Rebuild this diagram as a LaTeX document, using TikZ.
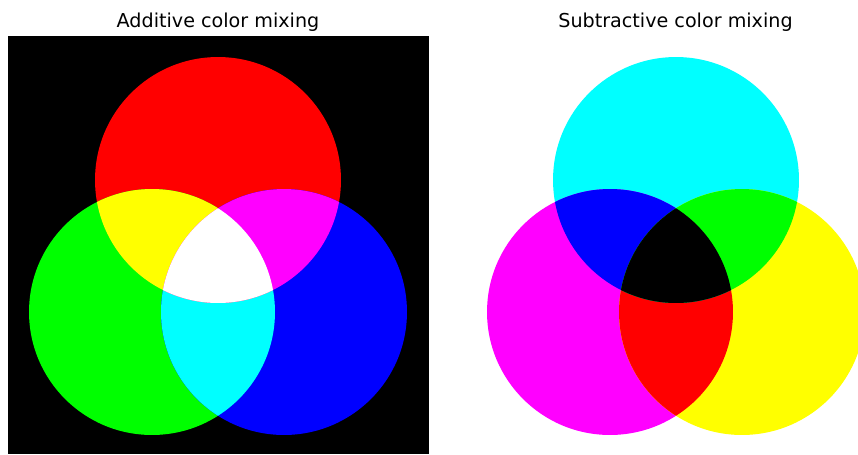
\documentclass[tikz,border=0pt]{standalone}
\usepackage{fontspec}
\setmainfont{DejaVu Sans}
\usepackage{tikz}

\definecolor{mixred}{rgb}{1,0,0}
\definecolor{mixgreen}{rgb}{0,1,0}
\definecolor{mixblue}{rgb}{0,0,1}
\definecolor{mixcyan}{rgb}{0,1,1}
\definecolor{mixmagenta}{rgb}{1,0,1}
\definecolor{mixyellow}{rgb}{1,1,0}

\begin{document}
\begin{tikzpicture}[x=0.02cm,y=-0.02cm]
\tikzstyle{title}=[anchor=base,inner sep=0pt,font=\fontsize{10.9}{13}\selectfont]
\tikzstyle{disc}=[radius=2.46cm]
\useasboundingbox (0,0) rectangle (858,454);
% additive panel
\fill[black] (8,36) rectangle (429,454);
\coordinate (r) at (218,180);
\coordinate (g) at (152,312);
\coordinate (b) at (284,312);
\fill[mixred] (r) circle[disc];
\fill[mixgreen] (g) circle[disc];
\fill[mixblue] (b) circle[disc];
\begin{scope}
\clip (g) circle[disc];
\fill[mixcyan] (b) circle[disc];
\end{scope}
\begin{scope}
\clip (r) circle[disc];
\fill[mixyellow] (g) circle[disc];
\fill[mixmagenta] (b) circle[disc];
\clip (g) circle[disc];
\fill[white] (b) circle[disc];
\end{scope}
\node[title] (addtitle) at (218,27) {Additive color mixing};
% subtractive panel
\begin{scope}
\clip (437,36) rectangle (858,454);
\coordinate (c) at (676,180);
\coordinate (m) at (610,312);
\coordinate (y) at (742,312);
\fill[mixcyan] (c) circle[disc];
\fill[mixmagenta] (m) circle[disc];
\fill[mixyellow] (y) circle[disc];
\begin{scope}
\clip (m) circle[disc];
\fill[mixred] (y) circle[disc];
\end{scope}
\begin{scope}
\clip (c) circle[disc];
\fill[mixblue] (m) circle[disc];
\fill[mixgreen] (y) circle[disc];
\clip (m) circle[disc];
\fill[black] (y) circle[disc];
\end{scope}
\end{scope}
\node[title] (subtitle) at (675.5,27) {Subtractive color mixing};
\end{tikzpicture}
\end{document}
